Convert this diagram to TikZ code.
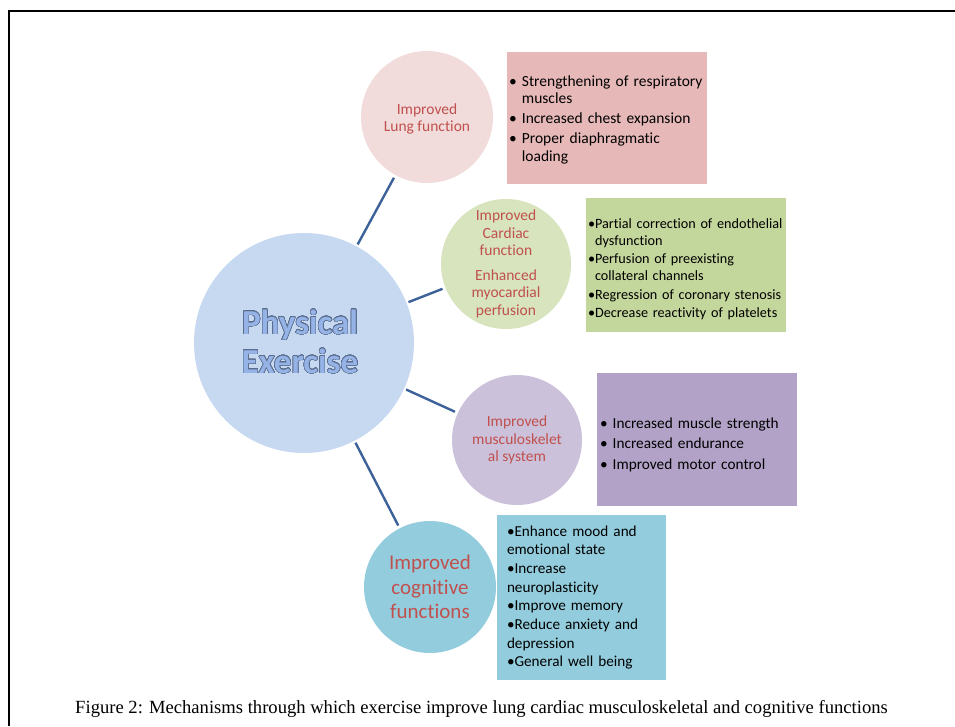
\documentclass[tikz,border=0pt]{standalone}
\usepackage{fontspec}
\setmainfont{Liberation Serif}
\newfontfamily\calfont[Ligatures={NoCommon}]{Carlito}
\usepackage{contour}
\contourlength{0.55pt}
\contournumber{32}

\definecolor{lungC}{HTML}{F2DCDB}
\definecolor{lungB}{HTML}{E6B9B8}
\definecolor{cardC}{HTML}{D7E4BD}
\definecolor{cardB}{HTML}{C3D69B}
\definecolor{muscC}{HTML}{CCC1DA}
\definecolor{muscB}{HTML}{B3A2C7}
\definecolor{cogC}{HTML}{93CDDD}
\definecolor{cogB}{HTML}{93CDDD}
\definecolor{peC}{HTML}{C6D9F1}
\definecolor{linkC}{HTML}{3D6199}
\definecolor{redT}{HTML}{C0504D}
\definecolor{peT}{HTML}{95B3E6}
\definecolor{peO}{HTML}{5A6D8E}

% bullet item with a hanging indent equal to the width of its marker
\newlength\bw
\newcommand\bul[2]{\par\settowidth{\bw}{#1}\hangindent=\bw\hangafter=1\noindent#1#2\par}

\tikzset{
  topic/.style={circle, inner sep=0pt, minimum size=#1, text=redT, align=center,
    font=\calfont\fontsize{15.5}{17.5}\selectfont},
  listbox/.style={rectangle, inner ysep=0pt, align=left, text=black,
    font=\calfont\fontsize{15.5}{17.5}\selectfont\setlength{\parskip}{2.5pt}},
  link/.style={draw=linkC, line width=2.4pt, shorten <=2pt, shorten >=3pt}
}

\begin{document}
\begin{tikzpicture}[x=1pt,y=-1pt]
  \useasboundingbox (0,0) rectangle (955,726);

  % frame
  \draw[line width=2pt] (9,726) -- (9,11) -- (955,11);

  % central circle
  \node[circle, fill=peC, inner sep=0pt, minimum size=220] (pe) at (304,343) {};
  \node[align=center, font=\calfont\bfseries\fontsize{35}{39}\selectfont] (pet) at (300,342)
    {\contour{peO}{\textcolor{peT}{Physical}}\\\contour{peO}{\textcolor{peT}{Exercise}}};

  % topic circles
  \node[topic=132, fill=lungC] (lung) at (427,117) {\\[-3pt]Improved\\Lung function};
  \node[topic=130, fill=cardC] (card) at (506,264)
    {Improved\\Cardiac\\function\\[7pt]Enhanced\\myocardial\\perfusion};
  \node[topic=130, fill=muscC] (musc) at (517,440) {Improved\\musculoskelet\\al system};
  \node[topic=132, fill=cogC, font=\calfont\fontsize{21}{24.5}\selectfont] (cog) at (430,587)
    {Improved\\cognitive\\functions};

  % connectors
  \draw[link] (pe) -- (lung);
  \draw[link] (pe) -- (card);
  \draw[link] (pe) -- (musc);
  \draw[link] (pe) -- (cog);

  % detail boxes
  \node[listbox, fill=lungB, text width=196, inner xsep=2pt, minimum height=132] (lungb) at (607,118)
    {\bul{•\ }{Strengthening of respiratory\newline muscles}%
     \bul{•\ }{Increased chest expansion}%
     \bul{•\ }{Proper diaphragmatic\newline loading}\vspace*{6pt}};
  \node[listbox, fill=cardB, text width=196, inner xsep=2pt, minimum height=134,
        font=\calfont\fontsize{14.2}{17}\selectfont\setlength{\parskip}{1.5pt}] (cardb) at (686,265)
    {\bul{•}{Partial correction of endothelial\newline dysfunction}%
     \bul{•}{Perfusion of preexisting\newline collateral channels}%
     \bul{•}{Regression of coronary stenosis}%
     \bul{•}{Decrease reactivity of platelets}};
  \node[listbox, fill=muscB, text width=194, inner xsep=3pt, minimum height=133,
        font=\calfont\fontsize{15.3}{18}\selectfont\setlength{\parskip}{2.5pt}] (muscb) at (697,439.5)
    {\bul{•\ }{Increased muscle strength}%
     \bul{•\ }{Increased endurance}%
     \bul{•\ }{Improved motor control}};
  \node[listbox, fill=cogB, text width=149, inner xsep=10pt, minimum height=165,
        font=\calfont\fontsize{15.2}{18.7}\selectfont\setlength{\parskip}{0pt}] (cogb) at (581.5,597.5)
    {•Enhance mood and\\emotional state\\•Increase\\neuroplasticity\\•Improve memory\\%
     •Reduce anxiety and\\depression\\•General well being};

  % caption
  \node[anchor=base, inner sep=0pt, font=\fontsize{18.6}{21}\selectfont] (cap) at (481.5,713)
    {Figure 2: Mechanisms through which exercise improve lung cardiac musculoskeletal and cognitive functions};
\end{tikzpicture}
\end{document}
